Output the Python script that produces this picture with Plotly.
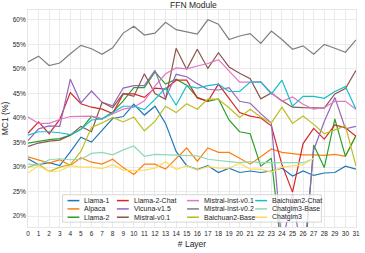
import plotly.graph_objects as go

layers = list(range(32))
layers_glm = list(range(28))

series_names = ["Llama-1", "Alpaca", "Llama-2", "Llama-2-Chat", "Vicuna-v1.5", "Mistral-v0.1",
                "Mistral-Inst-v0.1", "Mistral-Inst-v0.2", "Baichuan2-Base", "Baichuan2-Chat",
                "Chatglm3-Base", "Chatglm3"]
colors = ["#1f77b4", "#ff7f0e", "#2ca02c", "#d62728", "#9467bd", "#8c564b",
          "#e377c2", "#7f7f7f", "#bcbd22", "#17becf", "#8fd9b6", "#fddc5c"]

llama1 = [31.7, 30.5, 30.9, 30.3, 33.1, 36.1, 35.1, 37.6, 39.9, 40.3, 42.8, 40.6, 42.4, 38.9, 33.2, 30.3,
          29.5, 30.3, 28.9, 29.8, 28.9, 29.2, 28.9, 29.2, 29.8, 28.2, 29.2, 28.3, 28.8, 28.9, 30.2, 29.6]
alpaca = [32.1, 31.5, 30.8, 31.5, 30.3, 31.9, 31.0, 30.6, 31.6, 29.9, 28.5, 30.6, 30.6, 29.6, 31.8, 33.9,
          31.2, 33.9, 33.0, 33.0, 31.8, 30.6, 32.1, 33.7, 33.0, 32.7, 32.5, 32.5, 32.4, 32.6, 32.2, 36.5]
llama2 = [34.9, 35.3, 35.6, 35.8, 36.5, 37.7, 40.3, 39.8, 41.2, 43.5, 46.2, 46.2, 49.4, 46.9, 47.9, 46.7,
          44.2, 43.4, 43.9, 39.6, 37.2, 36.8, 30.2, 31.8, 12.0, 8.0, 7.0, 34.5, 29.9, 39.8, 32.2, 36.4]
llama2_chat = [36.9, 39.2, 36.8, 39.7, 45.2, 42.9, 42.2, 41.8, 40.9, 44.9, 44.9, 44.2, 46.1, 45.9, 47.7, 47.7,
               44.1, 43.4, 46.9, 44.1, 41.1, 40.4, 40.0, 38.4, 30.5, 24.9, 34.8, 37.9, 35.7, 38.6, 38.0, 36.3]
vicuna = [35.4, 37.8, 38.4, 38.3, 47.9, 43.1, 45.5, 43.2, 42.5, 46.1, 46.6, 46.6, 49.7, 44.0, 48.9, 48.4,
          47.0, 45.8, 45.7, 46.2, 43.4, 43.0, 40.9, 39.0, 14.0, 24.5, 10.0, 33.5, 39.3, 44.2, 37.8, 38.3]
mistral = [34.2, 34.9, 35.3, 35.5, 36.5, 38.3, 37.2, 43.2, 42.1, 45.0, 44.4, 49.0, 45.0, 43.8, 54.2, 49.9,
           54.0, 50.1, 53.3, 50.4, 49.1, 48.0, 43.9, 45.1, 43.5, 42.2, 42.1, 42.0, 42.0, 44.9, 46.0, 49.7]
mistral_inst1 = [40.2, 38.9, 38.9, 39.7, 40.3, 40.4, 40.4, 39.9, 40.8, 41.8, 42.2, 43.5, 46.5, 49.0, 50.2, 50.0,
                 50.6, 51.1, 51.9, 49.5, 47.3, 47.3, 47.4, 45.1, 43.4, 44.3, 42.8, 41.8, 42.1, 43.4, 43.4, 41.8]
mistral_inst2 = [51.4, 52.6, 50.7, 51.2, 53.1, 54.8, 54.1, 53.0, 54.3, 57.3, 58.7, 56.9, 57.3, 59.5, 58.0, 57.5,
                 57.1, 60.0, 59.1, 56.0, 56.7, 57.2, 55.2, 57.7, 56.0, 54.0, 54.7, 53.0, 55.0, 54.2, 53.4, 55.9]
baichuan_base = [30.0, 30.6, 29.1, 30.0, 30.5, 33.2, 38.1, 39.0, 40.1, 39.2, 40.2, 37.4, 39.3, 42.4, 41.1, 42.9,
                 41.8, 43.9, 43.8, 42.1, 40.1, 41.8, 40.2, 39.0, 42.2, 38.9, 40.4, 38.7, 36.8, 37.6, 38.4, 30.2]
baichuan_chat = [36.5, 37.2, 37.2, 37.0, 36.6, 37.7, 39.6, 39.8, 41.1, 42.4, 42.4, 41.7, 43.8, 46.1, 42.6, 46.6,
                 46.1, 46.6, 46.9, 45.4, 45.4, 47.3, 47.3, 44.9, 47.7, 42.4, 44.4, 44.4, 44.0, 45.4, 46.4, 41.8]
chatglm3_base = [30.6, 30.4, 31.5, 31.7, 31.5, 31.6, 32.8, 33.0, 32.5, 33.5, 34.3, 32.2, 32.6, 32.5, 32.4, 32.4,
                 32.3, 31.6, 31.3, 31.1, 30.9, 31.1, 30.9, 30.9, 30.8, 30.8, 30.9, 31.7]
chatglm3 = [28.8, 30.3, 29.1, 29.2, 30.3, 30.0, 30.0, 29.7, 30.5, 29.4, 29.3, 29.4, 29.8, 31.1, 29.5, 30.3,
            29.4, 30.1, 29.8, 29.8, 30.8, 29.6, 29.6, 29.0, 30.0, 30.3, 30.5, 31.8]

series_values = [llama1, alpaca, llama2, llama2_chat, vicuna, mistral, mistral_inst1, mistral_inst2,
                 baichuan_base, baichuan_chat, chatglm3_base, chatglm3]

y_tick_vals = [20, 25, 30, 35, 40, 45, 50, 55, 60]
y_tick_text = ["20%", "25%", "30%", "35%", "40%", "45%", "50%", "55%", "60%"]

FONT = "Liberation Sans, Arial, Helvetica, sans-serif"

fig = go.Figure()
for name, col, vals in zip(series_names, colors, series_values):
    xs = layers[:len(vals)]
    fig.add_trace(go.Scatter(x=xs, y=vals, mode="lines", name=name,
                             line=dict(color=col, width=1.2), showlegend=False))

# Custom compact legend (matplotlib-like, 4 columns x 3 rows, column-major)
W, H = 365, 253
L, R, T, B = 28, 5, 10, 21
pw, ph = W - L - R, H - T - B

def px2x(px):
    return (px - L) / pw

def py2y(py):
    return (H - B - py) / ph

col_text_px = [83, 133, 204, 273]
row_py = [205, 213.5, 222]
shapes = [dict(type="rect", xref="paper", yref="paper",
               x0=px2x(63), x1=px2x(325), y0=py2y(227), y1=py2y(199),
               fillcolor="rgba(255,255,255,0.8)", line=dict(color="#cccccc", width=0.8),
               layer="above")]
annotations = []
for i, (name, col) in enumerate(zip(series_names, colors)):
    c, r = divmod(i, 3)
    tx = col_text_px[c]
    yy = py2y(row_py[r])
    shapes.append(dict(type="line", xref="paper", yref="paper",
                       x0=px2x(tx - 15), x1=px2x(tx - 3), y0=yy, y1=yy,
                       line=dict(color=col, width=1.5), layer="above"))
    annotations.append(dict(text=name, xref="paper", yref="paper", x=px2x(tx), y=yy,
                            xanchor="left", yanchor="middle", showarrow=False,
                            font=dict(size=7, color="#262626", family=FONT)))

fig.update_layout(
    width=W, height=H,
    margin=dict(l=L, r=R, t=T, b=B),
    paper_bgcolor="white", plot_bgcolor="white",
    font=dict(family=FONT, color="#262626"),
    title=dict(text="FFN Module", x=0.53, xanchor="center", y=1 - 5 / H, yanchor="middle",
               yref="container", font=dict(size=8.5, color="#262626")),
    shapes=shapes, annotations=annotations,
    showlegend=False,
)
fig.update_xaxes(range=[0, 31], tickmode="array", tickvals=layers, ticktext=[str(v) for v in layers],
                 tickfont=dict(size=6.5), showgrid=True, gridcolor="#e6e6e6", gridwidth=0.8,
                 showline=True, linecolor="#e6e6e6", mirror=True, zeroline=False, ticks="",
                 title=dict(text="# Layer", font=dict(size=8.5), standoff=5))
fig.update_yaxes(range=[17.8, 62.0], tickmode="array", tickvals=y_tick_vals, ticktext=y_tick_text,
                 tickfont=dict(size=6.5), showgrid=True, gridcolor="#e6e6e6", gridwidth=0.8,
                 showline=True, linecolor="#e6e6e6", mirror=True, zeroline=False, ticks="",
                 title=dict(text="MC1 (%)", font=dict(size=8.5), standoff=2))

fig.write_html("out.html", config={"displayModeBar": False, "staticPlot": True},
               post_script="document.body.style.margin='0';document.body.style.overflow='hidden';")
